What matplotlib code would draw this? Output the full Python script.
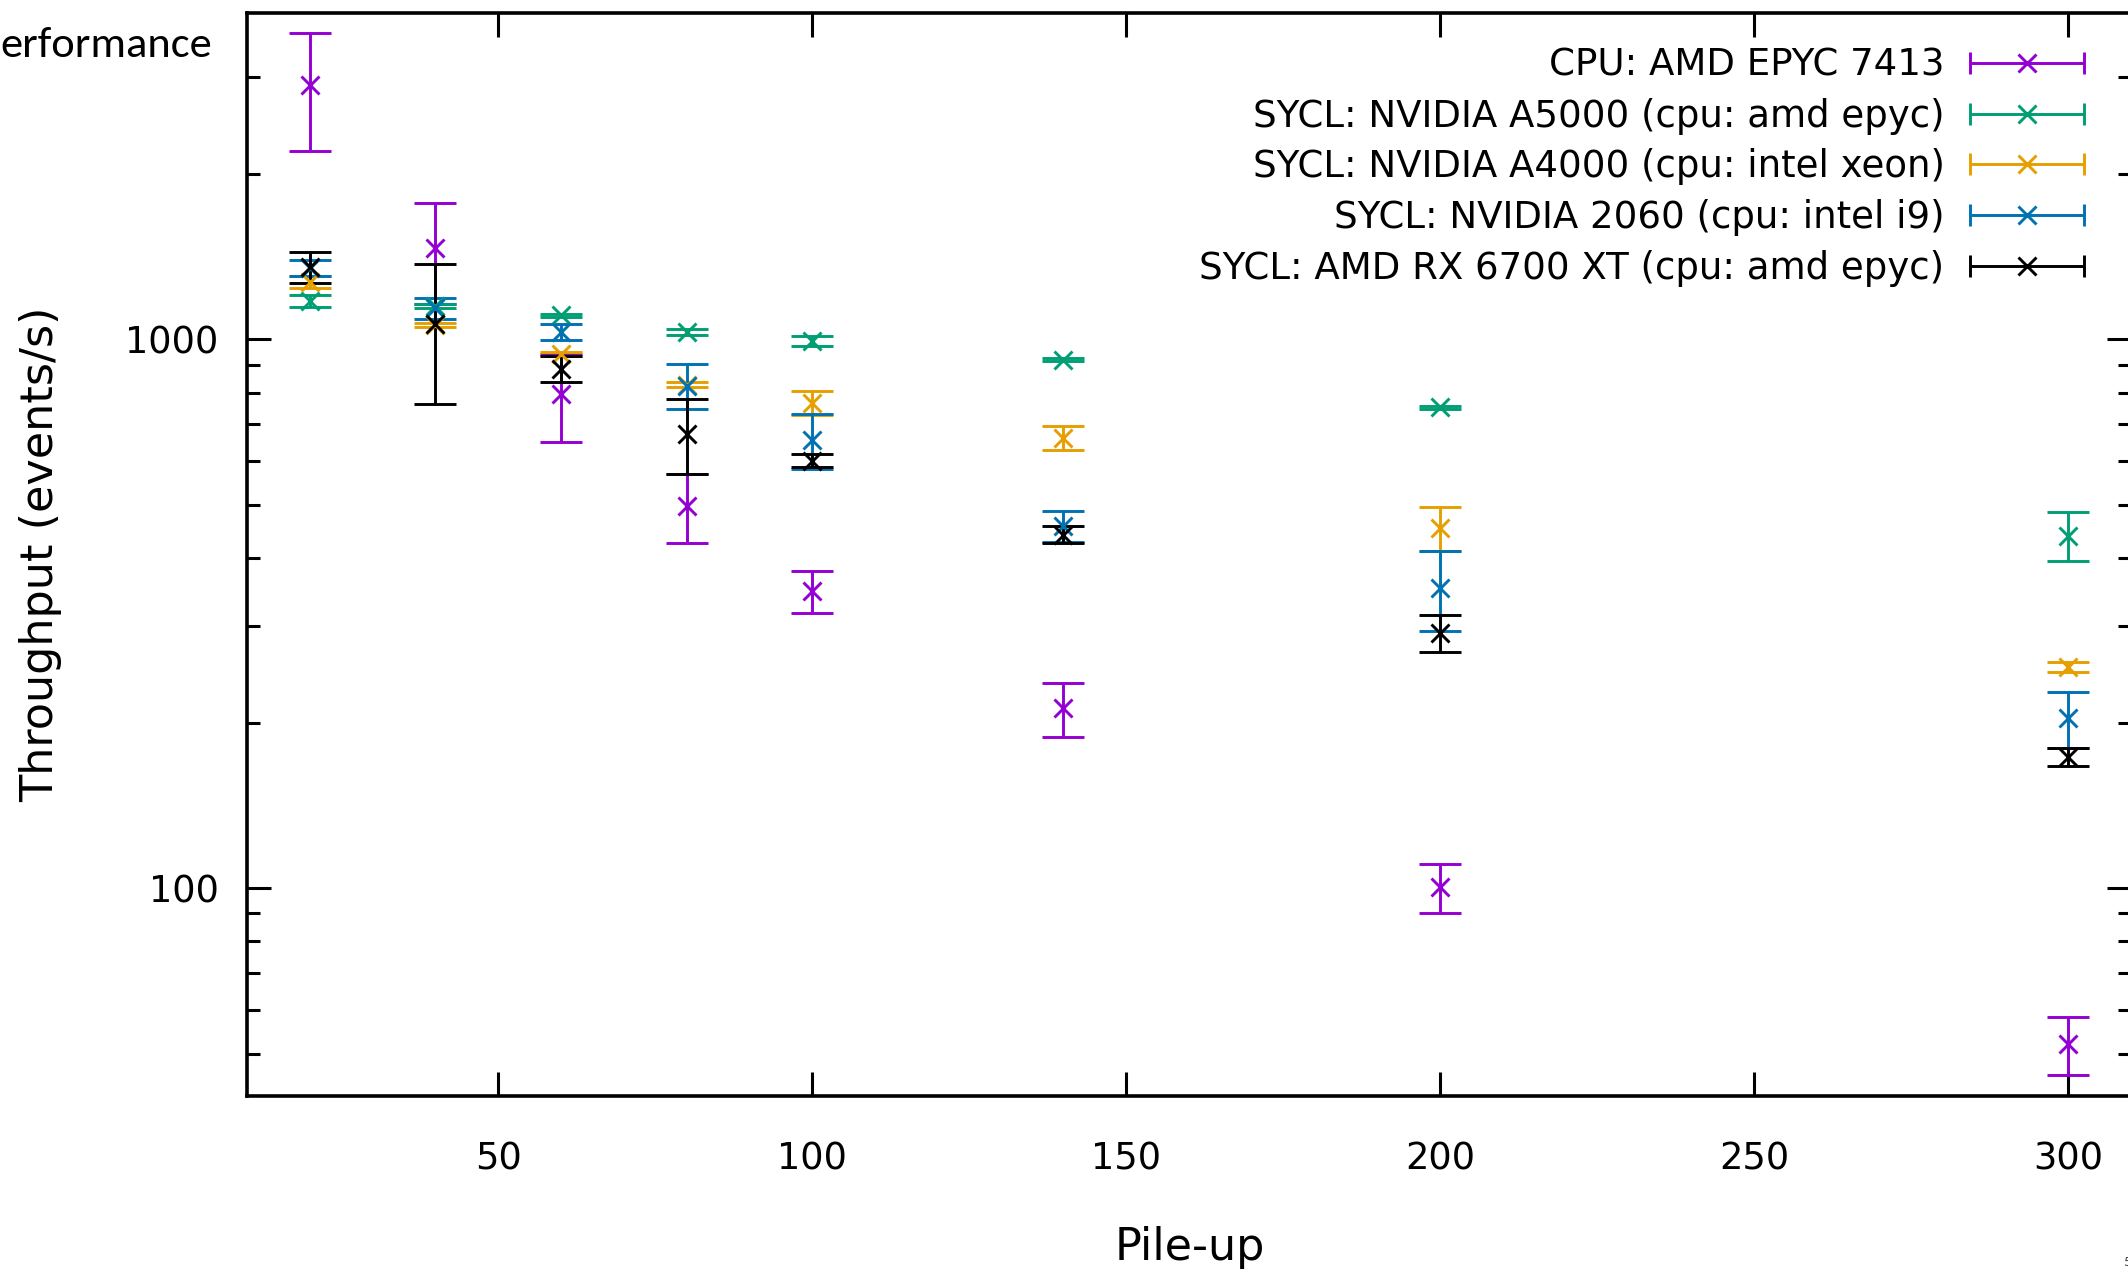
import numpy as np
import matplotlib
matplotlib.use("Agg")
import matplotlib.pyplot as plt
from matplotlib.ticker import LogLocator, FixedLocator, NullFormatter, FixedFormatter
from matplotlib.container import ErrorbarContainer
from matplotlib.legend_handler import HandlerErrorbar

# pile-up values on the x axis
pileup = [20, 40, 60, 80, 100, 140, 200, 300]

# throughput (events/s) and error for each setup
cpu_amd = [2912, 1466, 796, 498, 348, 213, 100.4, 52]
cpu_amd_err = [707, 307, 146, 71.5, 30, 24, 10.3, 6.4]

a5000 = [1175, 1151, 1106, 1031, 994, 918, 752, 439]
a5000_err = [28, 8, 8, 12, 21, 5, 5, 45]

a4000 = [1270, 1061, 942, 827, 766, 662, 453, 253]
a4000_err = [32, 8, 8, 8, 38, 32, 42, 5]

nv2060 = [1350, 1140, 1032, 824, 656, 457, 353, 204]
nv2060_err = [48, 52, 36, 78, 76, 30, 59, 24]

rx6700 = [1355, 1067, 884, 673, 601, 441, 292, 173.5]
rx6700_err = [88, 304, 48, 105, 16, 16, 23, 6.5]

labels = ["CPU: AMD EPYC 7413",
          "SYCL: NVIDIA A5000 (cpu: amd epyc)",
          "SYCL: NVIDIA A4000 (cpu: intel xeon)",
          "SYCL: NVIDIA 2060 (cpu: intel i9)",
          "SYCL: AMD RX 6700 XT (cpu: amd epyc)"]
colors = ["#9400D3", "#009E73", "#E69F00", "#0072B2", "#000000"]
series = [(cpu_amd, cpu_amd_err), (a5000, a5000_err), (a4000, a4000_err),
          (nv2060, nv2060_err), (rx6700, rx6700_err)]

font = "DejaVu Sans"

W, H = 2128, 1276
fig = plt.figure(figsize=(W / 100, H / 100), dpi=100)
# axes box in pixels (right edge runs just past the image)
x0, x1, y0, y1 = 247, 2131, 13, 1096
ax = fig.add_axes([x0 / W, 1 - y1 / H, (x1 - x0) / W, (y1 - y0) / H])

for (vals, err), c in zip(series, colors):
    ax.errorbar(pileup, vals, yerr=err, fmt="x", color=c, ms=13, mew=2.1,
                elinewidth=2.1, capsize=15, capthick=2.1)

# legend-only handles: horizontal bar with caps, like gnuplot's key
handles = []
for lab, c in zip(labels, colors):
    h = ax.errorbar([np.nan], [np.nan], xerr=[1], fmt="x", color=c, ms=13,
                    mew=2.1, elinewidth=2.1, capsize=8, capthick=2.1, label=lab)
    handles.append(h)

ax.set_yscale("log")
ax.set_xlim(10, 310)
ax.set_ylim(41.84, 3932)

ax.xaxis.set_major_locator(FixedLocator([50, 100, 150, 200, 250, 300]))
ax.yaxis.set_major_locator(FixedLocator([100, 1000]))
ax.yaxis.set_major_formatter(FixedFormatter(["100", "1000"]))
ax.yaxis.set_minor_locator(LogLocator(base=10, subs=np.arange(2, 10), numticks=20))
ax.yaxis.set_minor_formatter(NullFormatter())

ax.tick_params(which="both", direction="in", top=True, right=True, width=2.2, color="black")
ax.tick_params(which="major", length=17)
ax.tick_params(which="minor", length=9.5)
ax.tick_params(axis="x", pad=32)
ax.tick_params(axis="y", pad=20.5)
for lab in ax.get_xticklabels() + ax.get_yticklabels():
    lab.set_family(font)
    lab.set_fontsize(26.5)

for s in ax.spines.values():
    s.set_linewidth(2.6)

ax.set_xlabel("Pile-up", family=font, fontsize=32, va="center")
ax.xaxis.set_label_coords(0.5005, -0.1395)
ax.set_ylabel("Throughput (events/s)", family=font, fontsize=32, va="center")
ax.yaxis.set_label_coords(-0.1098, 0.5)

leg = ax.legend(handles=handles, labels=labels, loc="upper right",
                bbox_to_anchor=(2084 / W, 1 - 47 / H), bbox_transform=fig.transFigure,
                frameon=False, markerfirst=False, borderpad=0, borderaxespad=0,
                handlelength=3.08, handletextpad=0.68, labelspacing=0.37,
                prop={"family": font, "size": 26.7},
                handler_map={ErrorbarContainer: HandlerErrorbar(xerr_size=1.54)})

# slide text cropped by the screenshot
fig.text(212 / W, 1 - 57 / H, "erformance", family="Carlito", fontsize=32,
         ha="right", va="baseline")
fig.text(2123 / W, 1 - 1262 / H, "5", family="Carlito", fontsize=11,
         color="#404040", ha="left", va="center")

fig.savefig("out.png", dpi=100)
